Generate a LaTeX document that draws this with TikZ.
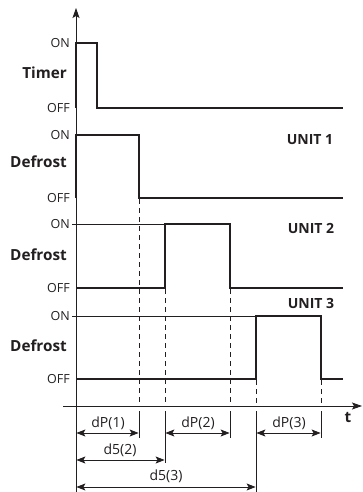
\documentclass[tikz,border=0pt]{standalone}
\usepackage{fontspec}
\setmainfont{Open Sans}
\usetikzlibrary{arrows.meta}
\definecolor{ink}{HTML}{231F20}
\tikzset{
  sig/.style={line width=2.6pt, color=ink, line join=miter},
  thinline/.style={line width=0.8pt, color=ink},
  guide/.style={line width=0.8pt, color=ink, dash pattern=on 5pt off 4pt},
  dimarrow/.style={line width=0.8pt, color=ink, {Stealth[length=9pt,width=7pt,inset=2pt]}-{Stealth[length=9pt,width=7pt,inset=2pt]}},
  lvl/.style={font=\fontsize{12.5}{13}\selectfont, color=ink, anchor=east, inner sep=0pt},
  signame/.style={font=\fontsize{15.3}{16}\selectfont\bfseries, color=ink, inner sep=0pt},
  unitlab/.style={font=\fontsize{14}{14}\selectfont\bfseries, color=ink, inner sep=0pt},
  dlab/.style={font=\fontsize{14}{14}\selectfont, color=ink, inner sep=0pt}
}
\begin{document}
\begin{tikzpicture}[x=1pt,y=-1pt]
\useasboundingbox (0,0) rectangle (363,492);
% axes
\draw[thinline, -{Stealth[length=10pt,width=7pt,inset=2pt]}] (76,492) -- (76,8);
\draw[thinline, -{Stealth[length=10pt,width=7pt,inset=2pt]}] (63,406) -- (362,406);
\node[signame] (t) at (348,418) {t};
% level labels
\node[lvl] (on0) at (70,43) {ON};
\node[lvl] (off0) at (70,108) {OFF};
\node[lvl] (on1) at (70,135) {ON};
\node[lvl] (off1) at (70,198) {OFF};
\node[lvl] (on2) at (70,224) {ON};
\node[lvl] (off2) at (70,288) {OFF};
\node[lvl] (on3) at (70,316) {ON};
\node[lvl] (off3) at (70,379) {OFF};
\node[signame, anchor=east] (timer) at (67,73) {Timer};
\node[signame, anchor=west] (d1) at (10,162) {Defrost};
\node[signame, anchor=west] (d2) at (10,255) {Defrost};
\node[signame, anchor=west] (d3) at (10,346) {Defrost};
\node[unitlab] (u1) at (310,140) {UNIT 1};
\node[unitlab] (u2) at (311,228.5) {UNIT 2};
\node[unitlab] (u3) at (311,303) {UNIT 3};
% thin ON reference lines
\draw[thinline] (72,224) -- (165,224);
\draw[thinline] (72,316) -- (256,316);
% signals
\draw[sig] (76,108) -- (76,43) -- (97,43) -- (97,108) -- (343,108);
\draw[sig] (76,198) -- (76,135) -- (139,135) -- (139,198) -- (343,198);
\draw[sig] (76,288) -- (165,288) -- (165,224) -- (230,224) -- (230,288) -- (343,288);
\draw[sig] (76,379) -- (256,379) -- (256,316) -- (321,316) -- (321,379) -- (343,379);
% dashed guides
\draw[guide] (139,199) -- (139,406);
\draw[guide] (165,289) -- (165,406);
\draw[guide] (230,289) -- (230,406);
\draw[guide] (256,380) -- (256,406);
\draw[guide] (321,380) -- (321,406);
% extension lines
\draw[thinline] (139,411) -- (139,438);
\draw[thinline] (165,411) -- (165,463);
\draw[thinline] (230,411) -- (230,438);
\draw[thinline] (256,411) -- (256,492);
\draw[thinline] (321,411) -- (321,438);
% dimension arrows
\draw[dimarrow] (76.4,433) -- (138.6,433);
\draw[dimarrow] (165.4,433) -- (229.6,433);
\draw[dimarrow] (256.4,433) -- (320.6,433);
\draw[dimarrow] (76.4,460) -- (164.6,460);
\draw[dimarrow] (76.4,487) -- (255.6,487);
\node[dlab] (l1) at (108,423) {dP(1)};
\node[dlab] (l2) at (198,423) {dP(2)};
\node[dlab] (l3) at (289,423) {dP(3)};
\node[dlab] (l4) at (120,450) {d5(2)};
\node[dlab] (l5) at (166,476) {d5(3)};
\end{tikzpicture}
\end{document}
